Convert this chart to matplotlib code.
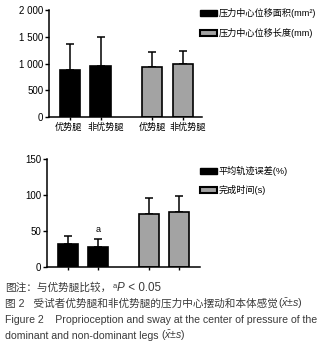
import matplotlib
matplotlib.use("Agg")
import matplotlib.pyplot as plt
import matplotlib.transforms as mtrans
from matplotlib.patches import Patch
from matplotlib.ticker import FuncFormatter

plt.rcParams['font.family'] = ['Liberation Sans', 'Noto Sans CJK SC', 'DejaVu Sans']
plt.rcParams['mathtext.fontset'] = 'custom'
plt.rcParams['mathtext.rm'] = 'Liberation Sans'
plt.rcParams['mathtext.it'] = 'Liberation Sans:italic'

# ---- data ----
groups = ['优势腿', '非优势腿', '优势腿', '非优势腿']
top_series = ['压力中心位移面积(mm²)', '压力中心位移长度(mm)']
top_area_mean = [873, 948]
top_area_sd = [486, 553]
top_length_mean = [929, 985]
top_length_sd = [292, 255]
top_yticks = [0, 500, 1000, 1500, 2000]

bot_series = ['平均轨迹误差(%)', '完成时间(s)']
bot_error_mean = [31.2, 27.9]
bot_error_sd = [11.1, 10.3]
bot_time_mean = [73.4, 76.6]
bot_time_sd = [22.7, 21.9]
bot_yticks = [0, 50, 100, 150]
sig_mark = 'a'

W, H = 323, 345
fig = plt.figure(figsize=(W / 100, H / 100), dpi=100)
renderer = fig.canvas.get_renderer()

def fx(px):
    return px / W

def fy(py):
    return 1 - py / H

pos = [0, 1, 2.7, 3.7]
bw = 0.66
gray = '#a3a3a3'
tick_fs = 7.0
cjk_fs = 6.6

def style_axes(ax):
    for s in ['top', 'right']:
        ax.spines[s].set_visible(False)
    for s in ['left', 'bottom']:
        ax.spines[s].set_linewidth(1.1)
    ax.tick_params(axis='y', length=3, width=1.0, labelsize=tick_fs, pad=1)
    ax.tick_params(axis='x', length=2, width=1.0, pad=2)

def draw_bars(ax, m1, s1, m2, s2):
    means = list(m1) + list(m2)
    sds = list(s1) + list(s2)
    colors = ['black', 'black', gray, gray]
    ax.bar(pos, means, width=bw, color=colors, edgecolor='black', linewidth=1.2, zorder=2)
    ax.errorbar(pos, means, yerr=[[0] * 4, sds], fmt='none', ecolor='black',
                elinewidth=1.1, capsize=3.2, capthick=1.1, zorder=1)

# ---- top chart ----
ax1 = fig.add_axes([fx(49), fy(117), fx(202) - fx(49), fy(10) - fy(117)])
draw_bars(ax1, top_area_mean, top_area_sd, top_length_mean, top_length_sd)
ax1.set_ylim(0, 2000)
ax1.set_xlim(-0.69, 4.33)
ax1.set_yticks(top_yticks)
ax1.yaxis.set_major_formatter(FuncFormatter(lambda v, p: f'{int(v):,}'.replace(',', ' ')))
ax1.set_xticks(pos)
ax1.set_xticklabels(groups, fontsize=cjk_fs)
style_axes(ax1)
shifts = [-2, 5, 0, 5]
for lab, sh in zip(ax1.get_xticklabels(), shifts):
    lab.set_transform(lab.get_transform() + mtrans.Affine2D().translate(sh, 0))
ax1.legend(handles=[Patch(facecolor='black', edgecolor='black', linewidth=1.0),
                    Patch(facecolor=gray, edgecolor='black', linewidth=1.5)],
           labels=top_series, loc='upper left', bbox_to_anchor=(fx(200), fy(8)),
           bbox_transform=fig.transFigure, frameon=False, fontsize=6.6,
           handlelength=1.9, handleheight=0.55, handletextpad=0.15,
           labelspacing=1.1, borderpad=0, borderaxespad=0)

# ---- bottom chart ----
ax2 = fig.add_axes([fx(47), fy(266.7), fx(200) - fx(47), fy(159) - fy(266.7)])
draw_bars(ax2, bot_error_mean, bot_error_sd, bot_time_mean, bot_time_sd)
ax2.set_ylim(0, 150)
ax2.set_xlim(-0.7, 4.4)
ax2.set_yticks(bot_yticks)
ax2.set_xticks(pos)
ax2.set_xticklabels([])
style_axes(ax2)
ax2.annotate(sig_mark, xy=(pos[1], bot_error_mean[1] + bot_error_sd[1]),
             xytext=(0, 4), textcoords='offset points', ha='center', va='bottom',
             fontsize=6.5)
ax2.legend(handles=[Patch(facecolor='black', edgecolor='black', linewidth=1.0),
                    Patch(facecolor=gray, edgecolor='black', linewidth=1.5)],
           labels=bot_series, loc='upper left', bbox_to_anchor=(fx(200), fy(166)),
           bbox_transform=fig.transFigure, frameon=False, fontsize=6.6,
           handlelength=1.9, handleheight=0.55, handletextpad=0.15,
           labelspacing=1.0, borderpad=0, borderaxespad=0)

# ---- caption ----
cap_color = '#3a3a3a'
cap_fs = 7.65
en_fs = 7.55

def seq(x_px, y_px, pieces):
    x = x_px
    for txt, kw in pieces:
        opts = dict(color=cap_color, fontsize=cap_fs)
        dy = kw.pop('dy', 0)
        gap = kw.pop('gap', 0)
        opts.update(kw)
        x += gap
        t = fig.text(fx(x), fy(y_px - dy), txt, ha='left', va='baseline', **opts)
        x += t.get_window_extent(renderer).width

seq(5, 291, [('图注：与优势腿比较，', {}),
             ('a', dict(fontsize=5.4, dy=3.5, gap=1)),
             ('P', dict(style='italic', gap=0.5, fontsize=8.4)),
             (' < 0.05', dict(fontsize=8.4))])
seq(5, 307, [('图 2   受试者优势腿和非优势腿的压力中心摆动和本体感觉', {}),
             (r'($\bar{x}$±$s$)', {})])
seq(5, 323, [('Figure 2    Proprioception and sway at the center of pressure of the',
              dict(fontsize=en_fs))])
seq(5, 339, [('dominant and non-dominant legs ', dict(fontsize=en_fs)),
             (r'($\bar{x}$±$s$)', dict(fontsize=en_fs))])

fig.savefig('out.png', dpi=100)
